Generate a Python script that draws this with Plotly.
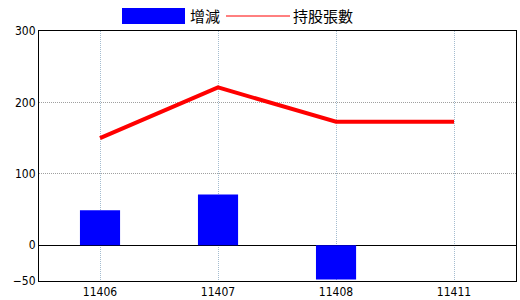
import plotly.graph_objects as go

categories = ["11406", "11407", "11408", "11411"]
change = [49, 71, -48, None]
holdings = [150, 221, 173, 173]
y_ticks = [-50, 0, 100, 200, 300]

fig = go.Figure()
fig.add_trace(go.Bar(x=categories, y=change, name="增減", marker_color="#0000ff",
                     marker_line_width=0, width=0.34))
fig.add_trace(go.Scatter(x=categories, y=holdings, name="持股張數", mode="lines",
                         line=dict(color="#ff0000", width=4)))

tickfont = dict(family="DejaVu Sans Condensed, Liberation Sans Narrow, sans-serif", size=12, color="#000")
fig.update_layout(
    width=520, height=300,
    margin=dict(l=39, r=4, t=31, b=19, autoexpand=False),
    paper_bgcolor="white", plot_bgcolor="white",
    showlegend=False,
    xaxis=dict(type="category", range=[-0.517, 3.525], showgrid=True, gridcolor="#a4bccf",
               griddash="1px,1px", gridwidth=1, showline=True, linecolor="#000", linewidth=1,
               mirror=True, ticks="", tickfont=tickfont, zeroline=False, ticklabelstandoff=0,
               automargin=False),
    yaxis=dict(range=[-50, 300], tickvals=y_ticks, showgrid=True, gridcolor="#a0a0a0",
               griddash="1px,1px", gridwidth=1, showline=True, linecolor="#000", linewidth=1,
               mirror=True, ticks="", tickfont=tickfont, zeroline=True, zerolinecolor="#000",
               zerolinewidth=1, automargin=False),
)

# legend drawn manually
H = 250.0
legfont = dict(family="Noto Sans CJK TC, sans-serif", size=15, color="#000")
fig.add_shape(type="rect", xref="paper", yref="paper", x0=(122-39)/477, x1=(185-39)/477,
              y0=(281-24)/H, y1=(281-8)/H, fillcolor="#0000ff", line_width=0)
fig.add_annotation(xref="paper", yref="paper", x=(188-39)/477, y=(281-16)/H, text="增減",
                   showarrow=False, xanchor="left", yanchor="middle", font=legfont)
fig.add_shape(type="line", xref="paper", yref="paper", x0=(226-39)/477, x1=(290-39)/477,
              y0=(281-16)/H, y1=(281-16)/H, line=dict(color="#ff0000", width=1))
fig.add_annotation(xref="paper", yref="paper", x=(291-39)/477, y=(281-16)/H, text="持股張數",
                   showarrow=False, xanchor="left", yanchor="middle", font=legfont)

fig.write_html("out.html")
